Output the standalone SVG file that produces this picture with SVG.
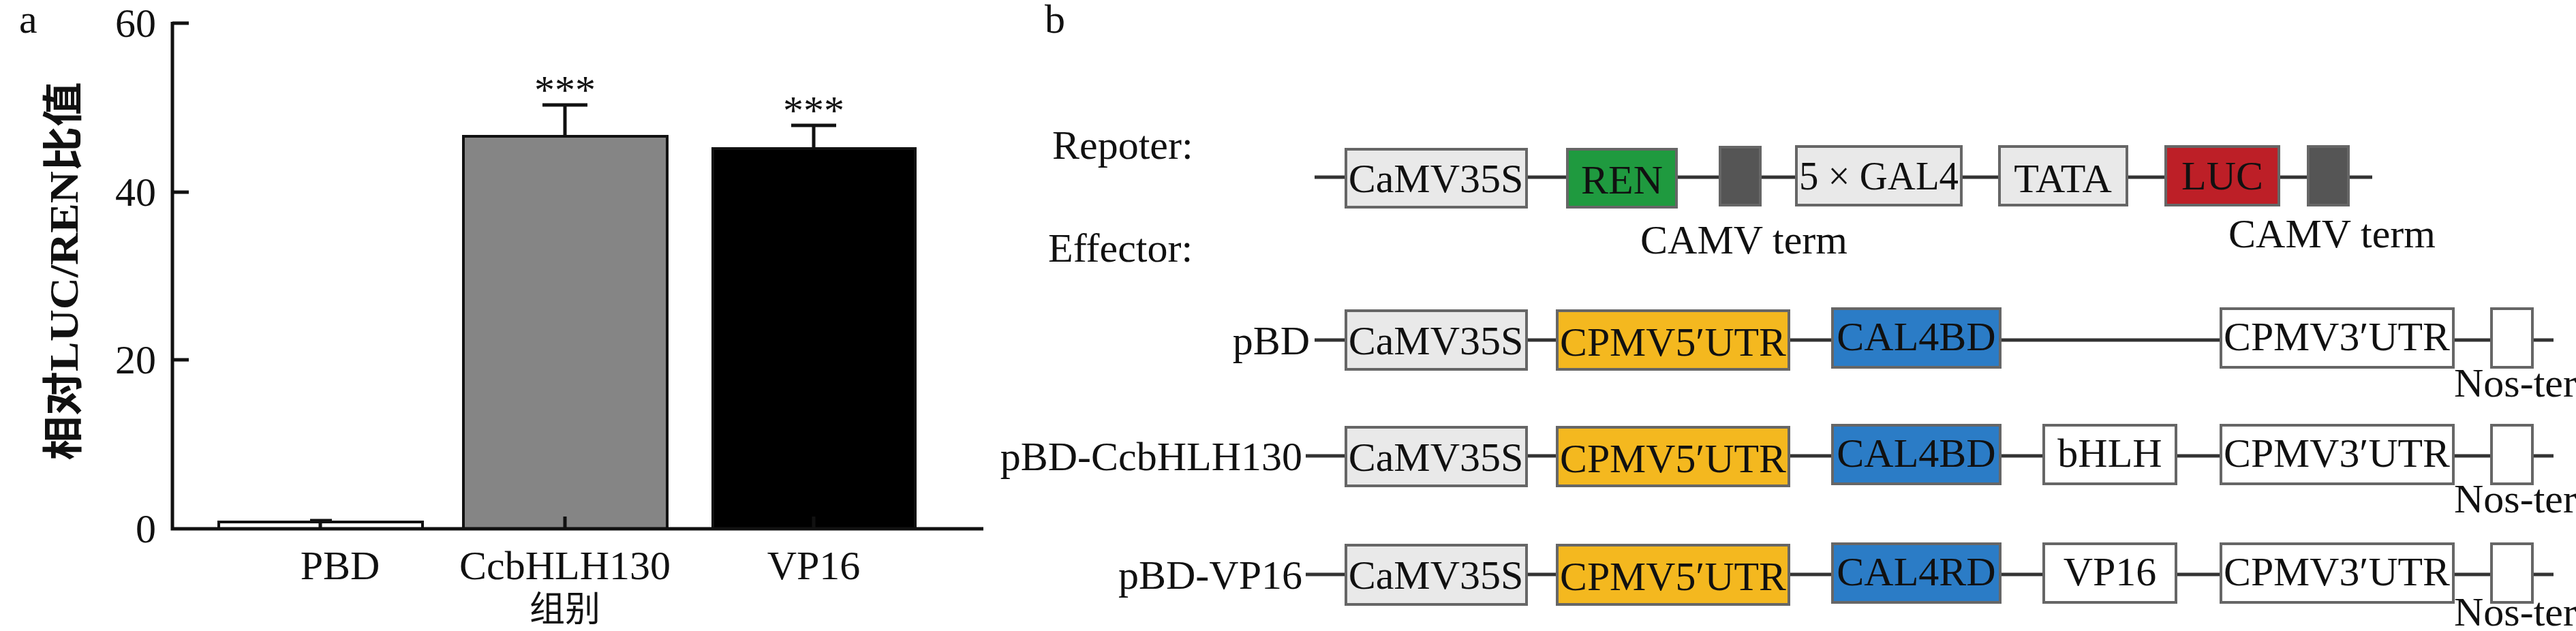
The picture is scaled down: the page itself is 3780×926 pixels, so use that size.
<svg xmlns="http://www.w3.org/2000/svg" width="3780" height="926" viewBox="0 0 3780 926">
<style>
text{font-family:"Liberation Serif","Times New Roman",serif;fill:#111}
.t{font-size:60px}
.c{text-anchor:middle}
.r{text-anchor:end}
.ax{stroke:#111;stroke-width:5;fill:none}
.bx{stroke:#666;stroke-width:4}
.ln{stroke:#333;stroke-width:5}
.g{fill:#e9e9e9}.w{fill:#fff}.k{fill:#555}
</style>
<rect width="3780" height="926" fill="#fff"/>
<g id="chart">
<text x="28" y="48" class="t">a</text>
<rect x="321" y="766" width="299" height="10" fill="#fff" stroke="#111" stroke-width="4"/>
<rect x="680" y="200" width="299" height="576" fill="#858585" stroke="#111" stroke-width="4"/>
<rect x="1046" y="218" width="297" height="558" fill="#000" stroke="#111" stroke-width="4"/>
<path class="ax" d="M253 32V776H1443M253 34h24M253 282h24M253 528h24M253 776h24M470 762v14M829 758v18M1194 758v18M829 200V154M796 154h66M1194 218V184M1161 184h66M455 764h32"/>
<text x="229" y="54" class="t r">60</text>
<text x="229" y="302" class="t r">40</text>
<text x="229" y="548" class="t r">20</text>
<text x="229" y="796" class="t r">0</text>
<text x="829" y="152" class="t c">***</text>
<text x="1194" y="182" class="t c">***</text>
<text x="499" y="850" class="t c">PBD</text>
<text x="829" y="850" class="t c">CcbHLH130</text>
<text x="829" y="912" class="c" style="font-family:'Noto Sans CJK SC',sans-serif;font-size:52px">组别</text>
<text x="1194" y="850" class="t c">VP16</text>
<text transform="translate(114,398) rotate(-90)" class="c" style="font-family:'Liberation Serif','Noto Sans CJK SC',serif;font-size:60px;font-weight:bold" textLength="555" lengthAdjust="spacingAndGlyphs">相对LUC/REN比值</text>
</g>
<g id="connectors">
<path class="ln" d="M1929 260H3481M1929 499H2689M2935 499H3259M3600 499H3747M1916 669H3747M1916 843H3747"/>
</g>
<g id="labels" class="t">
<text x="1533" y="48">b</text>
<text x="1544" y="233">Repoter:</text>
<text x="1538" y="384">Effector:</text>
<text x="2559" y="372" class="c">CAMV term</text>
<text x="3422" y="363" class="c">CAMV term</text>
<text x="1922" y="520" class="r">pBD</text>
<text x="1911" y="690" class="r">pBD-CcbHLH130</text>
<text x="1911" y="864" class="r">pBD-VP16</text>
<text x="3601" y="582">Nos-ter</text>
<text x="3601" y="752">Nos-ter</text>
<text x="3601" y="918">Nos-ter</text>
</g>
<g id="reporter">
<rect class="bx g" x="1975" y="219" width="265" height="85"/><text x="2107" y="282" class="t c">CaMV35S</text>
<rect class="bx" fill="#1f9a3f" x="2300" y="219" width="160" height="85"/><text x="2380" y="284" class="t c">REN</text>
<rect class="bx k" x="2524" y="216" width="59" height="85"/>
<rect class="bx g" x="2636" y="215" width="242" height="86"/><text x="2757" y="278" class="t c" textLength="234" lengthAdjust="spacingAndGlyphs">5 × GAL4</text>
<rect class="bx g" x="2934" y="215" width="187" height="86"/><text x="3027" y="282" class="t c">TATA</text>
<rect class="bx" fill="#bd1f27" x="3178" y="215" width="166" height="86"/><text x="3261" y="278" class="t c">LUC</text>
<rect class="bx k" x="3387" y="215" width="59" height="86"/>
</g>
<g id="pBD">
<rect class="bx g" x="1975" y="456" width="265" height="86"/><text x="2107" y="520" class="t c">CaMV35S</text>
<rect class="bx" fill="#f4b81f" x="2285" y="456" width="340" height="86"/><text x="2455" y="522" class="t c" textLength="332" lengthAdjust="spacingAndGlyphs">CPMV5′UTR</text>
<rect class="bx" fill="#2b7cc6" x="2689" y="453" width="246" height="86"/><text x="2812" y="514" class="t c">CAL4BD</text>
<rect class="bx w" x="3259" y="453" width="341" height="86"/><text x="3429" y="514" class="t c" textLength="332" lengthAdjust="spacingAndGlyphs">CPMV3′UTR</text>
<rect class="bx w" x="3656" y="453" width="60" height="86"/>
</g>
<g id="pBD-CcbHLH130">
<rect class="bx g" x="1975" y="627" width="265" height="86"/><text x="2107" y="691" class="t c">CaMV35S</text>
<rect class="bx" fill="#f4b81f" x="2285" y="627" width="340" height="86"/><text x="2455" y="693" class="t c" textLength="332" lengthAdjust="spacingAndGlyphs">CPMV5′UTR</text>
<rect class="bx" fill="#2b7cc6" x="2689" y="624" width="246" height="86"/><text x="2812" y="685" class="t c">CAL4BD</text>
<rect class="bx w" x="2999" y="624" width="194" height="86"/><text x="3096" y="685" class="t c">bHLH</text>
<rect class="bx w" x="3259" y="624" width="341" height="86"/><text x="3429" y="685" class="t c" textLength="332" lengthAdjust="spacingAndGlyphs">CPMV3′UTR</text>
<rect class="bx w" x="3656" y="624" width="60" height="86"/>
</g>
<g id="pBD-VP16">
<rect class="bx g" x="1975" y="800" width="265" height="87"/><text x="2107" y="864" class="t c">CaMV35S</text>
<rect class="bx" fill="#f4b81f" x="2285" y="800" width="340" height="87"/><text x="2455" y="866" class="t c" textLength="332" lengthAdjust="spacingAndGlyphs">CPMV5′UTR</text>
<rect class="bx" fill="#2b7cc6" x="2689" y="798" width="246" height="86"/><text x="2812" y="859" class="t c">CAL4RD</text>
<rect class="bx w" x="2999" y="798" width="194" height="86"/><text x="3096" y="859" class="t c">VP16</text>
<rect class="bx w" x="3259" y="798" width="341" height="86"/><text x="3429" y="859" class="t c" textLength="332" lengthAdjust="spacingAndGlyphs">CPMV3′UTR</text>
<rect class="bx w" x="3656" y="798" width="60" height="86"/>
</g>
</svg>
